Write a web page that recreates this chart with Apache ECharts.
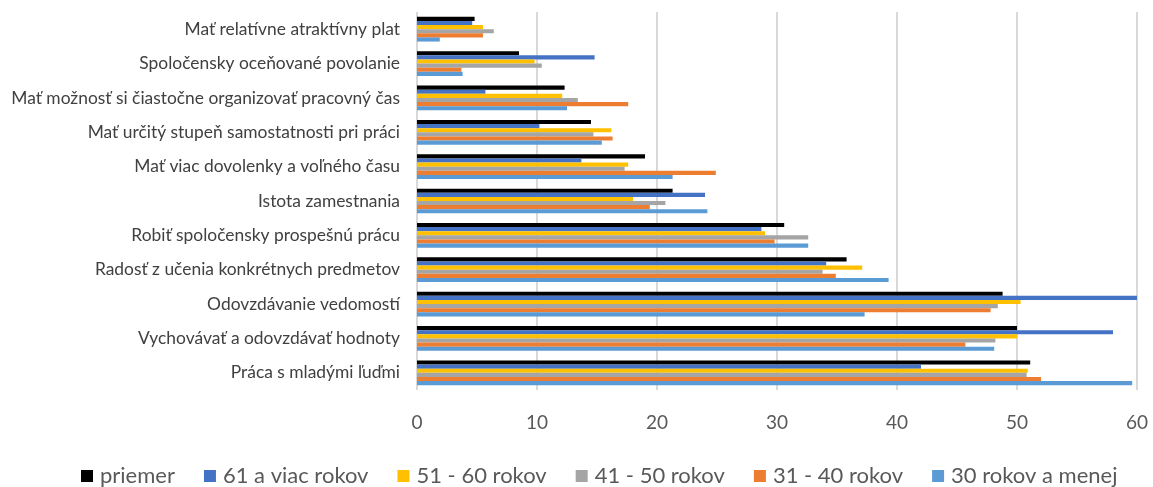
<!DOCTYPE html>
<html><head><meta charset="utf-8">
<script src="https://cdn.jsdelivr.net/npm/echarts@6/dist/echarts.min.js"></script>
<style>html,body{margin:0;padding:0;background:#fff}#c{width:1153px;height:487px}</style>
</head><body><div id="c"></div>
<script>
const categories = [
  "Mať relatívne atraktívny plat",
  "Spoločensky oceňované povolanie",
  "Mať možnosť si čiastočne organizovať pracovný čas",
  "Mať určitý stupeň samostatnosti pri práci",
  "Mať viac dovolenky a voľného času",
  "Istota zamestnania",
  "Robiť spoločensky prospešnú prácu",
  "Radosť z učenia konkrétnych predmetov",
  "Odovzdávanie vedomostí",
  "Vychovávať a odovzdávať hodnoty",
  "Práca s mladými ľuďmi"
];
const seriesNames = ["priemer","61 a viac rokov","51 - 60 rokov","41 - 50 rokov","31 - 40 rokov","30 rokov a menej"];
const priemer   = [4.8, 8.5, 12.3, 14.5, 19.0, 21.3, 30.6, 35.8, 48.8, 50.0, 51.1];
const viac61    = [4.6, 14.8, 5.7, 10.2, 13.7, 24.0, 28.7, 34.1, 60.0, 58.0, 42.0];
const r51_60    = [5.5, 9.8, 12.1, 16.2, 17.6, 18.0, 29.0, 37.1, 50.3, 50.0, 50.9];
const r41_50    = [6.4, 10.4, 13.4, 14.7, 17.3, 20.7, 32.6, 33.8, 48.4, 48.2, 50.8];
const r31_40    = [5.5, 3.7, 17.6, 16.3, 24.9, 19.4, 29.8, 34.9, 47.8, 45.7, 52.0];
const r30menej  = [1.9, 3.8, 12.5, 15.4, 21.3, 24.2, 32.6, 39.3, 37.3, 48.1, 59.6];
const xTicks = [0,10,20,30,40,50,60];
const colors = ["#000000","#4472C4","#FFC000","#A5A5A5","#ED7D31","#5B9BD5"];
const data = [priemer, viac61, r51_60, r41_50, r31_40, r30menej];
const font = "Lato, 'Open Sans', sans-serif";
const chart = echarts.init(document.getElementById('c'));
chart.setOption({
  animation:false,
  color: colors,
  grid:{left:417, right:16, top:12, bottom:97, containLabel:false},
  legend:{
    top:465, left:81, padding:0,
    itemWidth:12, itemHeight:12, itemGap:29,
    icon:'rect',
    textStyle:{fontFamily:font, fontSize:22, color:'#595959', padding:[0,0,0,2]},
    data: seriesNames
  },
  xAxis:{
    type:'value', min:0, max:60, interval:10,
    axisLine:{show:false}, axisTick:{show:false},
    splitLine:{lineStyle:{color:'#d9d9d9', width:2}},
    axisLabel:{fontFamily:font, fontSize:19, color:'#595959', margin:23,
      formatter:v=>xTicks.includes(v)?String(v):''}
  },
  yAxis:{
    type:'category', data:categories, inverse:true,
    axisLine:{show:false}, axisTick:{show:false},
    axisLabel:{fontFamily:font, fontSize:17.4, color:'#404040', margin:17}
  },
  series: seriesNames.map((n,i)=>({
    name:n, type:'bar', data:data[i],
    barCategoryGap:'28%', barGap:'0%',
    itemStyle:{color:colors[i]}
  }))
});
</script></body></html>
